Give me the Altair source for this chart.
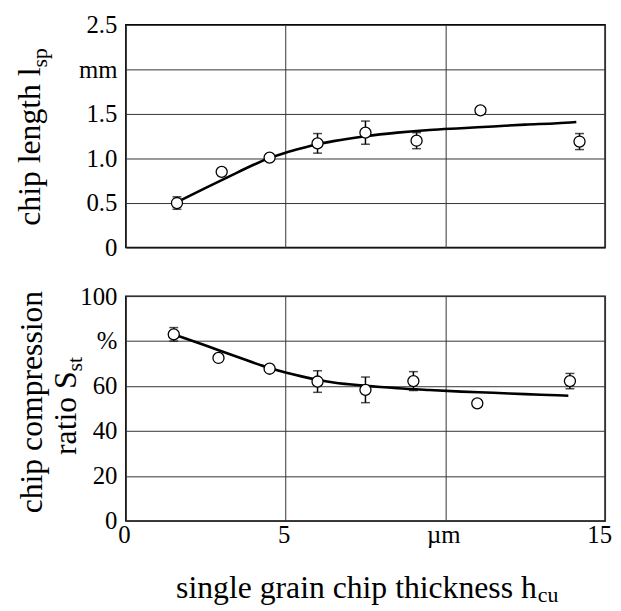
import altair as alt
import pandas as pd

FONT = "Liberation Serif"

# ---- top panel: chip length ----
len_x = [1.6, 3.0, 4.5, 6.0, 7.5, 9.1, 11.1, 14.2]
len_y = [0.50, 0.85, 1.01, 1.17, 1.29, 1.20, 1.54, 1.19]
len_err_x = [1.6, 6.0, 7.5, 9.1, 14.2]
len_err_c = [0.50, 1.17, 1.29, 1.20, 1.19]
len_err_h = [0.07, 0.11, 0.13, 0.09, 0.09]
len_fit_x = [1.6, 2.5, 3.5, 4.0, 4.5, 5.0, 5.5, 6.0, 6.5, 7.5, 8.5, 9.5, 10.5, 11.5, 12.5, 13.5, 14.1]
len_fit_y = [0.51, 0.67, 0.845, 0.93, 1.005, 1.065, 1.115, 1.16, 1.195, 1.25, 1.29, 1.32, 1.34, 1.36, 1.38, 1.395, 1.41]

# ---- bottom panel: chip compression ratio ----
cr_x = [1.5, 2.9, 4.5, 6.0, 7.5, 9.0, 11.0, 13.9]
cr_y = [83.0, 72.5, 67.7, 62.0, 58.3, 62.2, 52.3, 62.2]
cr_err_x = [1.5, 6.0, 7.5, 9.0, 13.9]
cr_err_c = [83.0, 62.0, 58.3, 62.2, 62.2]
cr_err_h = [3.0, 4.8, 5.7, 4.2, 3.4]
cr_fit_x = [1.6, 2.5, 3.5, 4.5, 5.0, 5.5, 6.0, 6.5, 7.5, 8.5, 9.5, 10.5, 11.5, 12.5, 13.5, 13.85]
cr_fit_y = [82.5, 78.0, 72.9, 68.0, 66.0, 64.3, 62.8, 61.6, 60.1, 59.0, 58.2, 57.5, 57.0, 56.4, 55.9, 55.7]

W = 484
H1 = 225
H2 = 227

one = pd.DataFrame({"k": [0]})


def panel(px, py, ex, ec, eh, fx, fy, ydom, yvals, ylabexpr, h, show_x):
    pts = pd.DataFrame({"x": px, "y": py})
    err = pd.DataFrame({"x": ex, "lo": [c - e for c, e in zip(ec, eh)],
                        "hi": [c + e for c, e in zip(ec, eh)]})
    fit = pd.DataFrame({"x": fx, "y": fy})

    if show_x:
        xaxis = alt.Axis(values=[0, 5, 10, 15], title=None, grid=True,
                         labelExpr="datum.value == 10 ? 'µm' : datum.label",
                         labelPadding=2,
                         labelOffset={"condition": {"test": "datum.value == 15", "value": -6},
                                      "value": -2},
                         labelFlush=False,
                         labelFont=FONT, labelFontSize=25)
    else:
        xaxis = alt.Axis(values=[0, 5, 10, 15], title=None, grid=True, labels=False)
    xs = alt.X("x:Q", scale=alt.Scale(domain=[0, 15], nice=False), axis=xaxis)
    yaxis = alt.Axis(values=yvals, title=None, grid=True, labelExpr=ylabexpr,
                     labelPadding=9, labelFont=FONT, labelFontSize=25)
    ys = alt.Y("y:Q", scale=alt.Scale(domain=ydom, nice=False), axis=yaxis)

    rule = alt.Chart(err).mark_rule(color="black", strokeWidth=1.5).encode(
        x=alt.X("x:Q"), y=alt.Y("lo:Q"), y2="hi:Q")
    cap_lo = alt.Chart(err).mark_tick(color="black", orient="horizontal", size=9,
                                      thickness=1.5).encode(x="x:Q", y="lo:Q")
    cap_hi = alt.Chart(err).mark_tick(color="black", orient="horizontal", size=9,
                                      thickness=1.5).encode(x="x:Q", y="hi:Q")
    line = alt.Chart(fit).mark_line(color="black", strokeWidth=2.6,
                                    interpolate="monotone").encode(x=xs, y=ys)
    dots = alt.Chart(pts).mark_point(shape="circle", size=125, filled=True,
                                     fill="white", stroke="black", strokeWidth=1.3,
                                     opacity=1).encode(x="x:Q", y="y:Q")
    return alt.layer(line, rule, cap_lo, cap_hi, dots).properties(width=W, height=h)


top = panel(len_x, len_y, len_err_x, len_err_c, len_err_h, len_fit_x, len_fit_y,
            [0, 2.5], [0, 0.5, 1, 1.5, 2, 2.5],
            "datum.value == 0 ? '0' : datum.value == 2 ? 'mm' : format(datum.value, '.1f')",
            H1, False)
bot = panel(cr_x, cr_y, cr_err_x, cr_err_c, cr_err_h, cr_fit_x, cr_fit_y,
            [0, 100], [0, 20, 40, 60, 80, 100],
            "datum.value == 80 ? '%' : datum.label",
            H2, True)

TS = 32
SS = 22


def txt(s, x, y, size, align, angle=0, baseline="alphabetic"):
    kw = dict(text=s, font=FONT, fontSize=size, color="black", align=align,
              baseline=baseline)
    if angle:
        kw["angle"] = angle
    return alt.Chart(one).mark_text(**kw).encode(x=alt.value(x), y=alt.value(y))


top_titles = [
    txt("chip length l", -87, 43, TS, "right", 270),
    txt("sp", -80, 43, SS, "left", 270),
]
bot_titles = [
    txt("chip compression", -85, 107, TS, "center", 270),
    txt("ratio S", -50, 76, TS, "right", 270),
    txt("st", -44, 76, SS, "left", 270),
    txt("single grain chip thickness h", 415, H2 + 78, TS, "right"),
    txt("cu", 416, H2 + 82, SS, "left"),
]

top_all = alt.layer(top, *top_titles)
bot_all = alt.layer(bot, *bot_titles)

chart = alt.vconcat(top_all, bot_all, spacing=49, bounds="flush").properties(
    padding={"left": 5, "top": 1, "right": 0, "bottom": 0},
    background="white"
).configure_view(stroke="black", strokeWidth=1.5).configure_axis(
    labelFont=FONT, labelFontSize=25, labelColor="black", gridColor="#333333",
    gridWidth=1, gridOpacity=1, domain=False, ticks=False
)

chart.save("out.html", embed_options={"renderer": "svg", "actions": False})
